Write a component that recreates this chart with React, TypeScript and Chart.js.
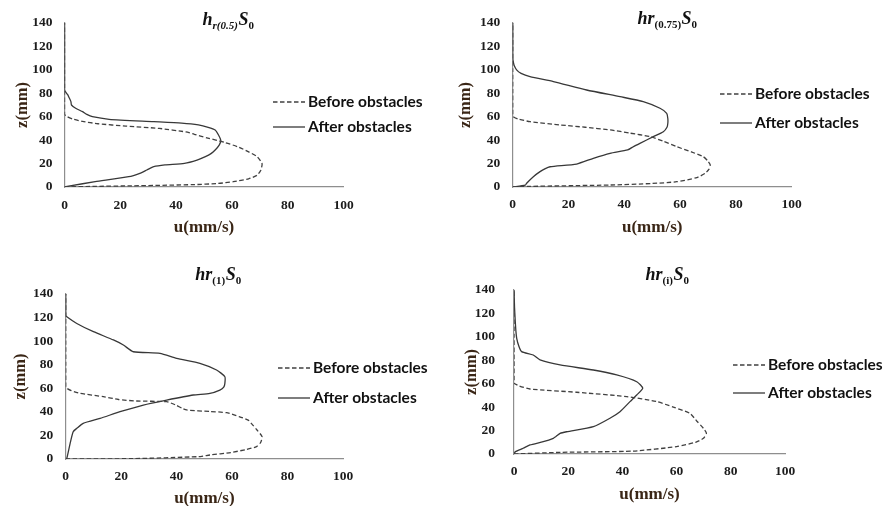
import React, { useEffect, useRef } from 'react';
import { Chart, registerables } from 'chart.js';

Chart.register(...registerables);

// ---- tick labels & series names ----
const zTicks = [0, 20, 40, 60, 80, 100, 120, 140];
const uTicks = [0, 20, 40, 60, 80, 100];
const seriesLabels = ['Before obstacles', 'After obstacles'];
const xAxisTitle = 'u(mm/s)';
const yAxisTitle = 'z(mm)';

// ---- panel 1 : h r(0.5) S0 ----
const p1BeforeZ = [0, 0.5, 1, 2, 3, 4.5, 7, 10, 14, 20, 26, 30, 34, 38, 42, 45, 47, 50, 52, 54, 56, 58, 60, 62, 80, 100, 120, 140];
const p1BeforeU = [0, 10, 24, 46, 55, 60.5, 66, 69, 70.3, 70.8, 69, 66, 62.5, 57.5, 51, 46.5, 43.5, 34, 22, 12, 6.5, 3, 1, 0, 0, 0, 0, 0];
const p1AfterZ = [0, 1, 4.5, 8.8, 11.7, 14.5, 17.3, 18.8, 20.2, 23, 25.9, 28.5, 31.6, 36, 40, 44.4, 48.7, 51, 53, 54.5, 55.8, 57.8, 60, 62, 64.3, 67.2, 70, 72.9, 77, 78.6, 81.4, 83, 100, 120, 140];
const p1AfterU = [0, 2, 11, 23, 27, 29.5, 32, 36, 43, 47.5, 50.5, 52.5, 54, 55.5, 56, 55.2, 54, 51.5, 48, 42, 32, 16, 10, 8, 6.5, 4, 2.5, 2.3, 1.5, 1.2, 0.3, 0, 0, 0, 0];

// ---- panel 2 : hr(0.75) S0 ----
const p2BeforeZ = [0, 0.5, 1.7, 3, 4.5, 8, 11.7, 15, 18.8, 22, 25.9, 30, 34.4, 39, 43, 46, 48.7, 51, 53, 55.8, 58, 60, 62, 80, 100, 120, 140];
const p2BeforeU = [0, 6, 35, 50, 58.8, 66, 69, 70.3, 70.8, 70, 68.3, 64, 58.8, 54, 49.2, 42, 35, 26, 17, 6.2, 2, 0.2, 0, 0, 0, 0, 0];
const p2AfterZ = [0, 1.5, 3.2, 8.8, 13.1, 15.5, 17.3, 19.6, 24.5, 28.7, 31.6, 34.5, 37.3, 43, 47.2, 51, 54.4, 58.5, 62.9, 67.2, 72.9, 77.1, 82.8, 90, 94.2, 97, 100, 104, 107, 110, 120, 140];
const p2AfterU = [0, 4.5, 5, 7.4, 9.8, 11.5, 13.4, 22.9, 28.9, 34.9, 41.2, 43.3, 45.6, 50.4, 54, 55.3, 55.6, 55.6, 55.2, 52.8, 46.8, 38.5, 26.5, 14.6, 6.2, 3, 1.4, 0.5, 0.2, 0, 0, 0];

// ---- panel 3 : hr(1) S0 ----
const p3BeforeZ = [0, 0.3, 2, 3.4, 5.5, 8, 10.5, 14, 19, 24.6, 30, 33, 36, 39.3, 40.3, 41.6, 43, 46, 48.6, 49.2, 50.5, 52.9, 55.7, 58, 60, 62, 80, 100, 120, 140];
const p3BeforeU = [0, 24, 48, 52, 59.5, 65, 68.8, 70.3, 70.8, 69, 67, 65.8, 62.5, 58, 52, 43.6, 42, 39.5, 36.4, 25.6, 19, 13.6, 5.2, 2, 0.4, 0, 0, 0, 0, 0];
const p3AfterZ = [0, 0.6, 13.3, 23.2, 26, 30.3, 34.5, 40.1, 45.8, 50, 54.3, 55.7, 58.5, 61, 64.2, 69.8, 75.5, 81.2, 85.4, 89.7, 91, 96.7, 101, 108, 115, 120.7, 122, 130, 140];
const p3AfterU = [0, 0.4, 1.6, 2.7, 4, 6.3, 12.4, 19.6, 28, 36.4, 46, 52, 55.6, 57, 57.4, 57.4, 54.4, 48.4, 40, 34, 24.4, 20.8, 17.2, 10, 4, 0.4, 0, 0, 0];

// ---- panel 4 : hr(i) S0 ----
const p4BeforeZ = [0, 1.4, 2.5, 6.3, 10, 13.4, 17.7, 21.9, 28, 34.7, 40, 44.7, 49, 52.7, 55.5, 58, 60.4, 62, 80, 100, 120, 140];
const p4BeforeU = [0, 17, 44, 60, 67, 69.9, 71, 69.9, 67.5, 64.9, 58.8, 52.7, 41.6, 23.1, 5.9, 2, 0, 0, 0, 0, 0, 0];
const p4AfterZ = [0, 2, 4.9, 7.7, 10.5, 13.4, 15, 17.6, 19, 23.3, 30.5, 36.1, 44.7, 50.4, 56.1, 61.7, 67.5, 71.7, 76, 80.3, 84.5, 87.4, 92, 98.8, 105, 115.9, 125, 140];
const p4AfterU = [0, 0.5, 3.4, 5.9, 10.8, 14.5, 15.5, 17, 19.4, 29.3, 35.4, 39.1, 42.8, 45.3, 47.5, 45.3, 37.9, 29.3, 17, 9.6, 7.1, 2.8, 1.8, 1, 0.7, 0.4, 0.2, 0];

type TitlePart = { t: string; it?: boolean; sub?: boolean };

const p1Title: TitlePart[] = [{ t: 'h', it: true }, { t: 'r(0.5)', it: true, sub: true }, { t: 'S', it: true }, { t: '0', sub: true }];
const p2Title: TitlePart[] = [{ t: 'hr', it: true }, { t: '(0.75)', sub: true }, { t: 'S', it: true }, { t: '0', sub: true }];
const p3Title: TitlePart[] = [{ t: 'hr', it: true }, { t: '(1)', sub: true }, { t: 'S', it: true }, { t: '0', sub: true }];
const p4Title: TitlePart[] = [{ t: 'hr', it: true }, { t: '(i)', sub: true }, { t: 'S', it: true }, { t: '0', sub: true }];

type Panel = {
  title: TitlePart[];
  bu: number[]; bz: number[]; au: number[]; az: number[];
  box: { x: number; y: number; w: number; h: number };
  area: { l: number; t: number; r: number; b: number };
  yTitleX: number; xTitleY: number; yTickPad: number; xTickPad: number;
  titleX: number; titleY: number;
  legend: { x: number; y: number; gap: number };
};

const panels: Panel[] = [
  {
    title: p1Title, bu: p1BeforeU, bz: p1BeforeZ, au: p1AfterU, az: p1AfterZ,
    box: { x: 0, y: 0, w: 440, h: 252 },
    area: { l: 64.5, t: 23, r: 343.5, b: 187 },
    yTitleX: 23, xTitleY: 228, yTickPad: 12, xTickPad: 10,
    titleX: 228, titleY: 25,
    legend: { x: 273, y: 102, gap: 25 },
  },
  {
    title: p2Title, bu: p2BeforeU, bz: p2BeforeZ, au: p2AfterU, az: p2AfterZ,
    box: { x: 440, y: 0, w: 444, h: 252 },
    area: { l: 512.7, t: 23, r: 791.7, b: 187 },
    yTitleX: 466, xTitleY: 228, yTickPad: 12.5, xTickPad: 9.5,
    titleX: 667, titleY: 24,
    legend: { x: 720, y: 94, gap: 29 },
  },
  {
    title: p3Title, bu: p3BeforeU, bz: p3BeforeZ, au: p3AfterU, az: p3AfterZ,
    box: { x: 0, y: 250, w: 440, h: 262 },
    area: { l: 65.7, t: 294, r: 343, b: 459 },
    yTitleX: 21, xTitleY: 499, yTickPad: 12.4, xTickPad: 9.5,
    titleX: 218, titleY: 280,
    legend: { x: 278, y: 368, gap: 30 },
  },
  {
    title: p4Title, bu: p4BeforeU, bz: p4BeforeZ, au: p4AfterU, az: p4AfterZ,
    box: { x: 440, y: 250, w: 444, h: 262 },
    area: { l: 514, t: 290, r: 785, b: 454 },
    yTitleX: 472, xTitleY: 495, yTickPad: 19, xTickPad: 9.5,
    titleX: 667, titleY: 280,
    legend: { x: 733, y: 365, gap: 28 },
  },
];

const SERIF = '"Liberation Serif", "Times New Roman", serif';
const LINE_DARK = '#383838';
const AXIS_GREY = '#8e8e8e';
const TICK_COLOR = '#1c1c1c';
const AXIS_TITLE_COLOR = '#3a2616';
const DASH = [4.5, 2.5];

const Y_TITLE_SIZE = 16.5;
const X_TITLE_SIZE = 17;
const LH = 1.2;

function PanelChart({ p }: { p: Panel }) {
  const ref = useRef<HTMLCanvasElement | null>(null);

  useEffect(() => {
    if (!ref.current) return;
    const yLH = Y_TITLE_SIZE * LH;
    const xLH = X_TITLE_SIZE * LH;
    const padLeft = p.yTitleX - p.box.x - yLH / 2;
    const padTop = p.area.t - p.box.y;
    const padRight = p.box.x + p.box.w - p.area.r;
    const padBottom = p.box.y + p.box.h - (p.xTitleY + xLH / 2);
    const yWidth = p.area.l - p.box.x - padLeft;
    const xHeight = p.xTitleY + xLH / 2 - p.area.b;

    const decor = {
      id: 'decor',
      afterDraw(chart: any) {
        const ctx = chart.ctx as CanvasRenderingContext2D;
        ctx.save();
        // title
        const mainSize = 18;
        const subSize = 11;
        const fontOf = (part: TitlePart) =>
          `${part.it ? 'italic ' : ''}bold ${part.sub ? subSize : mainSize}px ${SERIF}`;
        let total = 0;
        const widths = p.title.map((part) => {
          ctx.font = fontOf(part);
          const w = ctx.measureText(part.t).width;
          total += w;
          return w;
        });
        let tx = p.titleX - p.box.x - total / 2;
        const ty = p.titleY - p.box.y;
        ctx.fillStyle = '#111111';
        ctx.textBaseline = 'alphabetic';
        ctx.textAlign = 'left';
        p.title.forEach((part, i) => {
          ctx.font = fontOf(part);
          ctx.fillText(part.t, tx, part.sub ? ty + 4 : ty);
          tx += widths[i] + (part.sub ? 0.5 : 0);
        });

        // legend
        chart.data.datasets.forEach((ds: any, i: number) => {
          const lx = p.legend.x - p.box.x;
          const ly = p.legend.y - p.box.y + i * p.legend.gap;
          ctx.beginPath();
          ctx.strokeStyle = ds.borderColor;
          ctx.lineWidth = ds.borderWidth;
          ctx.setLineDash(ds.borderDash || []);
          ctx.moveTo(lx, ly);
          ctx.lineTo(lx + 32, ly);
          ctx.stroke();
          ctx.setLineDash([]);
          ctx.font = 'bold 15.5px Lato, "Open Sans", sans-serif';
          ctx.fillStyle = '#111111';
          ctx.textBaseline = 'middle';
          ctx.fillText(ds.label, lx + 35, ly);
        });
        ctx.restore();
      },
    };

    const toPts = (u: number[], z: number[]) => u.map((v, i) => ({ x: v, y: z[i] }));

    const chart = new Chart(ref.current, {
      type: 'scatter',
      data: {
        datasets: [
          {
            label: seriesLabels[0],
            data: toPts(p.bu, p.bz),
            showLine: true,
            borderColor: '#404040',
            borderWidth: 1.3,
            borderDash: DASH,
            pointRadius: 0,
            tension: 0.2,
            fill: false,
          },
          {
            label: seriesLabels[1],
            data: toPts(p.au, p.az),
            showLine: true,
            borderColor: LINE_DARK,
            borderWidth: 1.3,
            pointRadius: 0,
            tension: 0.2,
            fill: false,
          },
        ],
      },
      options: {
        responsive: false,
        animation: false,
        events: [],
        devicePixelRatio: 1,
        layout: { padding: { left: padLeft, top: padTop, right: padRight, bottom: padBottom } },
        plugins: { legend: { display: false }, tooltip: { enabled: false }, title: { display: false } },
        scales: {
          x: {
            type: 'linear',
            min: 0,
            max: 100,
            afterBuildTicks: (s: any) => { s.ticks = uTicks.map((v) => ({ value: v })); },
            afterFit: (s: any) => { s.height = xHeight; },
            grid: { display: false, drawTicks: false },
            border: { display: true, color: AXIS_GREY, width: 1.2 },
            ticks: {
              padding: p.xTickPad,
              color: TICK_COLOR,
              maxRotation: 0,
              autoSkip: false,
              font: { family: SERIF, size: 13.5, weight: 'bold' },
            },
            title: {
              display: true,
              text: xAxisTitle,
              color: AXIS_TITLE_COLOR,
              padding: 0,
              font: { family: SERIF, size: X_TITLE_SIZE, weight: 'bold', lineHeight: LH },
            },
          },
          y: {
            type: 'linear',
            min: 0,
            max: 140,
            afterBuildTicks: (s: any) => { s.ticks = zTicks.map((v) => ({ value: v })); },
            afterFit: (s: any) => { s.width = yWidth; },
            grid: { display: false, drawTicks: false },
            border: { display: true, color: AXIS_GREY, width: 1.2 },
            ticks: {
              padding: p.yTickPad,
              color: TICK_COLOR,
              autoSkip: false,
              font: { family: SERIF, size: 13.5, weight: 'bold' },
            },
            title: {
              display: true,
              text: yAxisTitle,
              color: AXIS_TITLE_COLOR,
              padding: 0,
              font: { family: SERIF, size: Y_TITLE_SIZE, weight: 'bold', lineHeight: LH },
            },
          },
        },
      } as any,
      plugins: [decor],
    });
    return () => chart.destroy();
  }, [p]);

  return (
    <canvas
      ref={ref}
      width={p.box.w}
      height={p.box.h}
      style={{ position: 'absolute', left: p.box.x, top: p.box.y, width: p.box.w, height: p.box.h }}
    />
  );
}

export default function App() {
  return (
    <div
      style={{
        position: 'absolute',
        left: 0,
        top: 0,
        width: 884,
        height: 506,
        overflow: 'hidden',
        background: '#ffffff',
      }}
    >
      {panels.map((p, i) => (
        <PanelChart key={i} p={p} />
      ))}
    </div>
  );
}
